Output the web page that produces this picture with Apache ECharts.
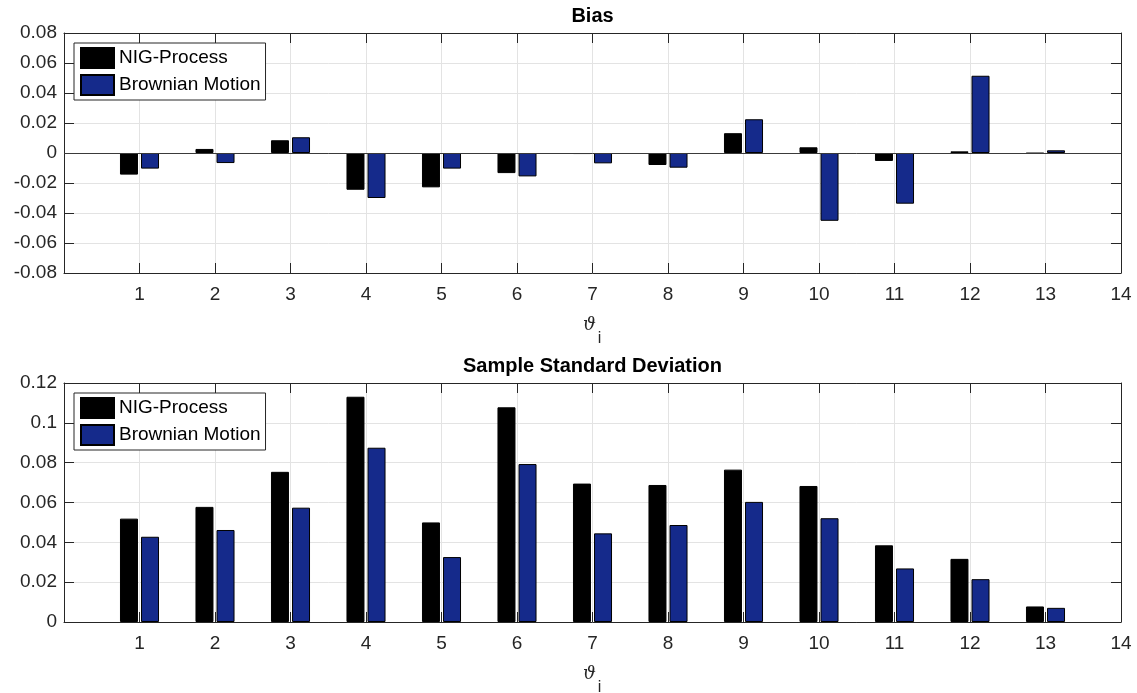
<!DOCTYPE html>
<html>
<head>
<meta charset="utf-8">
<title>Bias and Sample Standard Deviation</title>
<script src="https://cdn.jsdelivr.net/npm/echarts@6/dist/echarts.min.js"></script>
<style>
  html, body { margin: 0; padding: 0; background: #ffffff; }
  #chart { width: 1137px; height: 693px; }
</style>
</head>
<body>
<div id="chart"></div>
<script>
// Parameter index positions (0 and 14 carry no bars)
const thetaLabels = ['', '1', '2', '3', '4', '5', '6', '7', '8', '9', '10', '11', '12', '13', '14'];
const seriesNames = ['NIG-Process', 'Brownian Motion'];

// Bias of the estimates, parameters 1..13
const biasNIG = [-0.0144, 0.0027, 0.0085, -0.0245, -0.0229, -0.0134, -0.0007, -0.0080, 0.0132, 0.0038, -0.0053, 0.0011, -0.0003];
const biasBM  = [-0.0104, -0.0067, 0.0105, -0.0300, -0.0104, -0.0156, -0.0069, -0.0098, 0.0225, -0.0452, -0.0338, 0.0515, 0.0018];

// Sample standard deviation of the estimates, parameters 1..13
const sdNIG = [0.0519, 0.0578, 0.0754, 0.1131, 0.0500, 0.1078, 0.0695, 0.0688, 0.0765, 0.0683, 0.0385, 0.0317, 0.0078];
const sdBM  = [0.0428, 0.0462, 0.0574, 0.0875, 0.0326, 0.0793, 0.0445, 0.0487, 0.0603, 0.0521, 0.0269, 0.0215, 0.0071];

// y-axis ranges and tick steps
const biasRange = { min: -0.08, max: 0.08, interval: 0.02 };
const sdRange = { min: 0, max: 0.12, interval: 0.02 };

const AXIS_COLOR = '#262626';
const GRID_COLOR = '#e3e3e3';
const FONT = "'Liberation Sans', Arial, Helvetica, sans-serif";
const COLORS = ['#000000', '#152a8b'];

// pad the 13 values so they sit on positions 1..13 of the 0..14 axis
function onPositions(vals) {
  return ['-'].concat(vals).concat(['-']);
}

function tickFmt(v) {
  return String(parseFloat(Number(v).toFixed(4)));
}

function bottomXAxis(gridIndex) {
  return {
    type: 'category', gridIndex: gridIndex, position: 'bottom',
    data: thetaLabels, boundaryGap: false,
    axisLine: { onZero: false, lineStyle: { color: AXIS_COLOR, width: 1 } },
    axisTick: { inside: true, length: 10, interval: 0, lineStyle: { color: AXIS_COLOR } },
    axisLabel: { interval: 0, margin: 12, color: AXIS_COLOR, fontSize: 19, fontFamily: FONT },
    splitLine: { show: true, interval: 0, lineStyle: { color: GRID_COLOR, width: 1 } },
    // theta with a lowered subscript i
    name: '{t|\u03d1}\n{s|i}',
    nameLocation: 'middle', nameGap: 45,
    nameTextStyle: {
      align: 'center',
      rich: {
        t: { fontFamily: "'DejaVu Serif', 'Liberation Serif', serif", fontStyle: 'italic', fontSize: 18, color: AXIS_COLOR, lineHeight: 14, padding: [0, 6, 0, 0], align: 'center' },
        s: { fontFamily: FONT, fontSize: 16, color: AXIS_COLOR, lineHeight: 14, padding: [0, 6, 0, 20], align: 'center' }
      }
    }
  };
}

function topXAxis(gridIndex, title) {
  return {
    type: 'category', gridIndex: gridIndex, position: 'top',
    data: thetaLabels, boundaryGap: false,
    axisLine: { onZero: false, lineStyle: { color: AXIS_COLOR, width: 1 } },
    axisTick: { inside: true, length: 10, interval: 0, lineStyle: { color: AXIS_COLOR } },
    axisLabel: { show: false },
    splitLine: { show: false },
    name: title, nameLocation: 'middle', nameGap: 7,
    nameTextStyle: { fontFamily: FONT, fontWeight: 'bold', fontSize: 20, color: '#000' }
  };
}

function leftYAxis(gridIndex, range) {
  return {
    type: 'value', gridIndex: gridIndex, position: 'left',
    min: range.min, max: range.max, interval: range.interval,
    axisLine: { show: true, lineStyle: { color: AXIS_COLOR, width: 1 } },
    axisTick: { show: true, inside: true, length: 10, lineStyle: { color: AXIS_COLOR } },
    axisLabel: { margin: 7, color: AXIS_COLOR, fontSize: 19, fontFamily: FONT, formatter: tickFmt },
    splitLine: { show: true, lineStyle: { color: GRID_COLOR, width: 1 } }
  };
}

function rightYAxis(gridIndex, range) {
  return {
    type: 'value', gridIndex: gridIndex, position: 'right',
    min: range.min, max: range.max, interval: range.interval,
    axisLine: { show: true, lineStyle: { color: AXIS_COLOR, width: 1 } },
    axisTick: { show: true, inside: true, length: 10, lineStyle: { color: AXIS_COLOR } },
    axisLabel: { show: false },
    splitLine: { show: false }
  };
}

function barSeries(name, color, vals, xi, yi, withBaseline) {
  const s = {
    type: 'bar', name: name, xAxisIndex: xi, yAxisIndex: yi,
    data: onPositions(vals),
    barWidth: 18, barGap: '17%',
    itemStyle: { color: color, borderColor: '#000000', borderWidth: 1 },
    emphasis: { disabled: true }
  };
  if (withBaseline) {
    s.markLine = {
      silent: true, symbol: 'none', label: { show: false },
      lineStyle: { color: '#3a3a3a', width: 1, type: 'solid' },
      data: [{ yAxis: 0 }]
    };
  }
  return s;
}

function legendAt(top) {
  return {
    data: seriesNames, orient: 'vertical', left: 74, top: top,
    itemWidth: 33, itemHeight: 20, itemGap: 5,
    padding: [4, 5, 4, 6],
    backgroundColor: '#ffffff', borderColor: AXIS_COLOR, borderWidth: 1, borderRadius: 0,
    icon: 'rect',
    selectedMode: false,
    textStyle: { fontFamily: FONT, fontSize: 19, color: '#000' }
  };
}

const chart = echarts.init(document.getElementById('chart'));
chart.setOption({
  animation: false,
  backgroundColor: '#ffffff',
  grid: [
    { left: 64, right: 16, top: 33, height: 240, outerBoundsMode: 'none' },
    { left: 64, right: 16, top: 383, height: 239, outerBoundsMode: 'none' }
  ],
  legend: [legendAt(43), legendAt(393)],
  xAxis: [bottomXAxis(0), topXAxis(0, 'Bias'), bottomXAxis(1), topXAxis(1, 'Sample Standard Deviation')],
  yAxis: [leftYAxis(0, biasRange), rightYAxis(0, biasRange), leftYAxis(1, sdRange), rightYAxis(1, sdRange)],
  series: [
    barSeries(seriesNames[0], COLORS[0], biasNIG, 0, 0, true),
    barSeries(seriesNames[1], COLORS[1], biasBM, 0, 0, false),
    barSeries(seriesNames[0], COLORS[0], sdNIG, 2, 2, false),
    barSeries(seriesNames[1], COLORS[1], sdBM, 2, 2, false)
  ]
});
</script>
</body>
</html>
